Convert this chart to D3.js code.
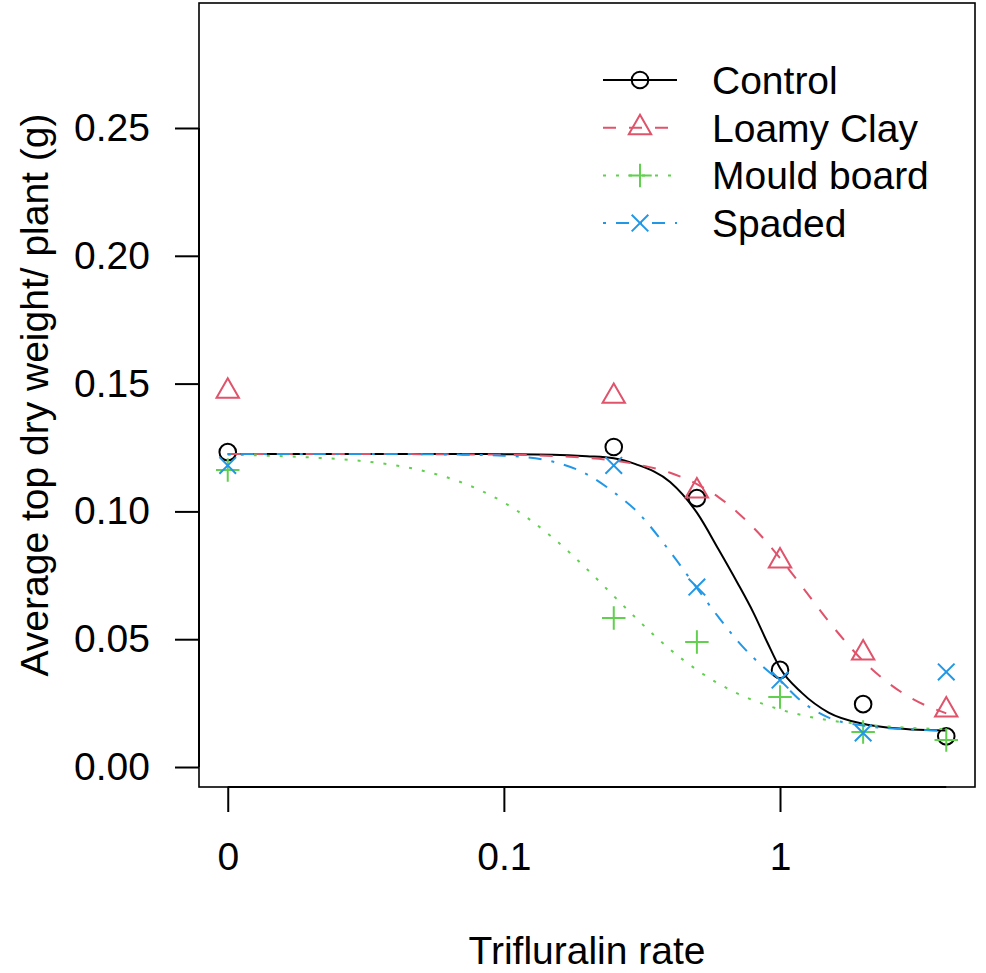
<!DOCTYPE html>
<html><head><meta charset="utf-8">
<script src="https://cdn.jsdelivr.net/npm/d3@7/dist/d3.min.js"></script>
<style>
body{margin:0;background:#fff}
text{font-family:"Liberation Sans",Arial,Helvetica,sans-serif;fill:#000}
</style>
</head><body>
<svg id="chart" width="986" height="973"></svg>
<script>
// ---------- data ----------
const seriesNames = ["Control", "Loamy Clay", "Mould board", "Spaded"];
const doses = [0, 0.25, 0.5, 1, 2, 4];
const controlObs = [0.1232, 0.1252, 0.1052, 0.0380, 0.0246, 0.0120];
const loamyObs   = [0.1470, 0.1450, 0.1080, 0.0806, 0.0446, 0.0223];
const mouldObs   = [0.1162, 0.0583, 0.0489, 0.0274, 0.0137, 0.0106];
const spadedObs  = [0.1180, 0.1180, 0.0704, 0.0340, 0.0133, 0.0372];

// fitted curves
const curveDoses = [0.01, 0.02, 0.03, 0.05, 0.07, 0.1, 0.15, 0.2, 0.25, 0.3, 0.4, 0.5, 0.6, 0.7, 0.8, 0.9, 1, 1.2, 1.5, 2, 3, 4];
const controlFit = [0.1225, 0.1225, 0.1225, 0.1225, 0.1225, 0.1224, 0.1222, 0.1216, 0.1208, 0.1185, 0.1115, 0.0995, 0.0850, 0.0722, 0.0605, 0.0487, 0.0387, 0.0290, 0.0213, 0.0169, 0.0147, 0.0143];
const loamyFit   = [0.1225, 0.1225, 0.1225, 0.1224, 0.1223, 0.1222, 0.1217, 0.1209, 0.1199, 0.1185, 0.1151, 0.1107, 0.1055, 0.0997, 0.0937, 0.0877, 0.0817, 0.0707, 0.0570, 0.0415, 0.0268, 0.0210];
const mouldFit   = [0.1222, 0.1211, 0.1198, 0.1161, 0.1114, 0.1035, 0.0898, 0.0774, 0.0669, 0.0584, 0.0460, 0.0380, 0.0326, 0.0288, 0.0261, 0.0241, 0.0225, 0.0203, 0.0183, 0.0167, 0.0153, 0.0148];
const spadedFit  = [0.1225, 0.1225, 0.1225, 0.1224, 0.1222, 0.1218, 0.1195, 0.1145, 0.1075, 0.1005, 0.0842, 0.0700, 0.0585, 0.0495, 0.0428, 0.0378, 0.0337, 0.0256, 0.0193, 0.0162, 0.0147, 0.0142];

const yTicks = [0, 0.05, 0.10, 0.15, 0.20, 0.25];
const xTicks = [0.01, 0.1, 1];
const xTickLabels = ["0", "0.1", "1"];
const zeroDose = 0.01;          // position where dose 0 is drawn
const xTitle = "Trifluralin rate";
const yTitle = "Average top dry weight/ plant (g)";

// ---------- styling ----------
const colors = ["#000000", "#DF536B", "#61D04F", "#2297E6"];
const dashes = [null, "13,13", "3,10", "3,10,13,10"];
const symbols = ["circle", "triangle", "plus", "cross"];

const obs = [controlObs, loamyObs, mouldObs, spadedObs];
const fits = [controlFit, loamyFit, mouldFit, spadedFit];

const L = 199, R = 975, T = 3, B = 787;
const FS = 39;

const svg = d3.select("#chart");

const lo = Math.log10(zeroDose), hi = Math.log10(d3.max(doses));
const pad = 0.04 * (hi - lo);
const x = d3.scaleLog().domain([Math.pow(10, lo - pad), Math.pow(10, hi + pad)]).range([L, R]);
const y = d3.scaleLinear().domain([-0.00782, 0.2989]).range([B, T]);
const dx = d => x(d === 0 ? zeroDose : d);

// clip
svg.append("defs").append("clipPath").attr("id", "clip")
  .append("rect").attr("x", L).attr("y", T).attr("width", R - L).attr("height", B - T);

// axes
const yAxis = d3.axisLeft(y).tickValues(yTicks).tickFormat(d3.format(".2f")).tickSize(24).tickPadding(25);
const gy = svg.append("g").attr("transform", `translate(${L},0)`).call(yAxis);
gy.select(".domain").remove();
gy.selectAll(".tick line").attr("stroke", "#000").attr("stroke-width", 2);
gy.selectAll(".tick text").attr("font-size", FS).attr("fill", "#000")
  .style("font-family", '"Liberation Sans",Arial,sans-serif');

const xAxis = d3.axisBottom(x).tickValues(xTicks).tickFormat((d, i) => xTickLabels[i]).tickSize(25).tickPadding(30);
const gx = svg.append("g").attr("transform", `translate(0,${B})`).call(xAxis);
gx.select(".domain").remove();
gx.selectAll(".tick line").attr("stroke", "#000").attr("stroke-width", 2);
gx.selectAll(".tick text").attr("font-size", FS).attr("fill", "#000")
  .style("font-family", '"Liberation Sans",Arial,sans-serif');

// axis lines (R style: from first to last tick)
svg.append("line").attr("x1", L).attr("x2", L).attr("y1", y(d3.min(yTicks))).attr("y2", y(d3.max(yTicks)))
  .attr("stroke", "#000").attr("stroke-width", 2);
svg.append("line").attr("y1", B).attr("y2", B).attr("x1", dx(doses[0])).attr("x2", dx(d3.max(doses)))
  .attr("stroke", "#000").attr("stroke-width", 2);

// box
svg.append("rect").attr("x", L).attr("y", T).attr("width", R - L).attr("height", B - T)
  .attr("fill", "none").attr("stroke", "#000").attr("stroke-width", 1.6);

// titles
svg.append("text").attr("x", (L + R) / 2).attr("y", 964).attr("text-anchor", "middle")
  .attr("font-size", FS).text(xTitle);
svg.append("text").attr("transform", `translate(48,${(T + B) / 2}) rotate(-90)`).attr("text-anchor", "middle")
  .attr("font-size", FS).text(yTitle);

// symbols
const RAD = 8.3;
function drawSymbol(g, type, cx, cy, color) {
  let el;
  if (type === "circle") {
    el = g.append("circle").attr("cx", cx).attr("cy", cy).attr("r", RAD);
  } else if (type === "triangle") {
    const r = 1.555 * RAD, h = 1.347 * RAD, yc = 0.7776 * RAD;
    el = g.append("path").attr("d", `M${cx},${cy - r}L${cx + h},${cy + yc}L${cx - h},${cy + yc}Z`);
  } else if (type === "plus") {
    const a = Math.SQRT2 * RAD;
    el = g.append("path").attr("d", `M${cx - a},${cy}H${cx + a}M${cx},${cy - a}V${cy + a}`);
  } else {
    const a = RAD;
    el = g.append("path").attr("d", `M${cx - a},${cy - a}L${cx + a},${cy + a}M${cx - a},${cy + a}L${cx + a},${cy - a}`);
  }
  el.attr("stroke", color).attr("stroke-width", 2).attr("fill", "none");
}

const plot = svg.append("g").attr("clip-path", "url(#clip)");
const line = d3.line().x(d => x(d[0])).y(d => y(d[1])).curve(d3.curveMonotoneX);

seriesNames.forEach((name, i) => {
  const g = plot.append("g");
  doses.forEach((d, j) => drawSymbol(g, symbols[i], dx(d), y(obs[i][j]), colors[i]));
  const pts = curveDoses.map((d, j) => [d, fits[i][j]]);
  g.append("path").attr("d", line(pts)).attr("fill", "none").attr("stroke", colors[i])
    .attr("stroke-width", 2).attr("stroke-dasharray", dashes[i]);
});

// legend
const legY0 = 80, legStep = 47.7, legX1 = 603, legX2 = 677, legSym = 640, legText = 712;
seriesNames.forEach((name, i) => {
  const ly = legY0 + i * legStep;
  const g = svg.append("g");
  g.append("line").attr("x1", legX1).attr("x2", legX2).attr("y1", ly).attr("y2", ly)
    .attr("stroke", colors[i]).attr("stroke-width", 2).attr("stroke-dasharray", dashes[i]);
  drawSymbol(g, symbols[i], legSym, ly, colors[i]);
  g.append("text").attr("x", legText).attr("y", ly).attr("dy", "0.36em").attr("font-size", FS).text(name);
});
</script>
</body></html>
